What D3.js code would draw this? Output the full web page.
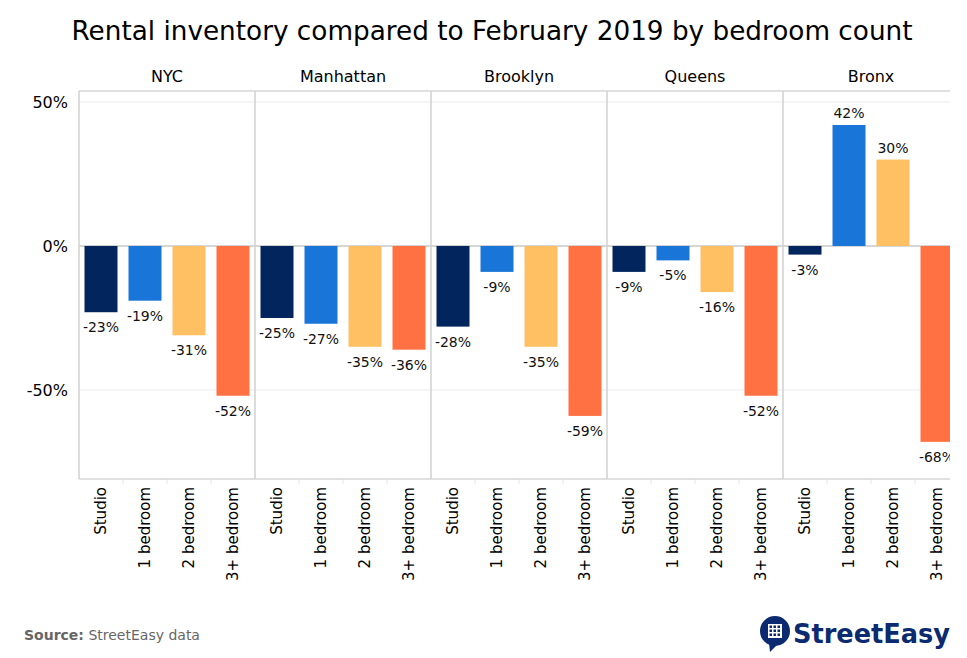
<!DOCTYPE html>
<html>
<head>
<meta charset="utf-8">
<script src="https://cdn.jsdelivr.net/npm/d3@7"></script>
<style>
  body { margin: 0; background: #fff; }
  svg { font-family: 'DejaVu Sans', Verdana, sans-serif; }
</style>
</head>
<body>
<svg></svg>
<script>
// data
var boroughs = ['NYC', 'Manhattan', 'Brooklyn', 'Queens', 'Bronx'];
var bedrooms = ['Studio', '1 bedroom', '2 bedroom', '3+ bedroom'];
var nycValues = [-23, -19, -31, -52];
var manhattanValues = [-25, -27, -35, -36];
var brooklynValues = [-28, -9, -35, -59];
var queensValues = [-9, -5, -16, -52];
var bronxValues = [-3, 42, 30, -68];
var yTicks = [50, 0, -50];
var colors = ['#03255e', '#1976d8', '#ffc064', '#ff7043'];

var values = [nycValues, manhattanValues, brooklynValues, queensValues, bronxValues];

var width = 967;
var height = 658;
var plotLeft = 79;
var plotTop = 91;
var plotBottom = 479;
var panelWidth = 176;
var clipRight = 950;

var svg = d3.select('svg')
            .attr('width', width)
            .attr('height', height);

var xScale = d3.scaleBand()
               .domain(boroughs)
               .range([plotLeft, plotLeft + panelWidth * boroughs.length]);

var barScale = d3.scaleBand()
                 .domain(bedrooms)
                 .range([0, panelWidth])
                 .paddingInner(0.25)
                 .paddingOuter(0.125);

var yScale = d3.scaleLinear()
               .domain([-80.9, 53.8])
               .range([plotBottom, plotTop]);

svg.append('clipPath')
    .attr('id', 'clip')
    .append('rect')
    .attr('x', 0)
    .attr('y', 0)
    .attr('width', clipRight)
    .attr('height', height);

// title
svg.append('text')
    .attr('x', 492)
    .attr('y', 40)
    .attr('text-anchor', 'middle')
    .attr('textLength', 841)
    .attr('lengthAdjust', 'spacingAndGlyphs')
    .style('font-size', '27px')
    .style('fill', '#000')
    .text('Rental inventory compared to February 2019 by bedroom count');

var plot = svg.append('g').attr('clip-path', 'url(#clip)');

// gridlines
plot.selectAll('.grid')
    .data(yTicks)
    .enter()
    .append('line')
    .attr('class', 'grid')
    .attr('x1', plotLeft)
    .attr('x2', clipRight)
    .attr('y1', (d) => yScale(d))
    .attr('y2', (d) => yScale(d))
    .attr('stroke', (d) => d === 0 ? '#c8c8c8' : '#f0f0f0')
    .attr('stroke-width', 1.5);

// frame top / bottom
plot.append('line')
    .attr('x1', plotLeft).attr('x2', clipRight)
    .attr('y1', plotTop).attr('y2', plotTop)
    .attr('stroke', '#d6d6d6').attr('stroke-width', 1.5);

plot.append('line')
    .attr('x1', plotLeft).attr('x2', clipRight)
    .attr('y1', plotBottom).attr('y2', plotBottom)
    .attr('stroke', '#d6d6d6').attr('stroke-width', 1.5);

// panel separators
plot.selectAll('.sep')
    .data(boroughs)
    .enter()
    .append('line')
    .attr('class', 'sep')
    .attr('x1', (d) => xScale(d))
    .attr('x2', (d) => xScale(d))
    .attr('y1', plotTop)
    .attr('y2', plotBottom)
    .attr('stroke', '#d0d0d0')
    .attr('stroke-width', 1.5);

var panels = plot.selectAll('.panel')
                 .data(boroughs)
                 .enter()
                 .append('g')
                 .attr('class', 'panel')
                 .attr('transform', (d) => 'translate(' + xScale(d) + ',0)');

// panel headers
svg.selectAll('.header')
    .data(boroughs)
    .enter()
    .append('text')
    .attr('class', 'header')
    .attr('x', (d) => xScale(d) + panelWidth / 2)
    .attr('y', 82)
    .attr('text-anchor', 'middle')
    .style('font-size', '16px')
    .style('fill', '#000')
    .text((d) => d);

// bars
panels.selectAll('rect')
    .data((d, i) => values[i].map((v, j) => ({ bed: bedrooms[j], value: v, idx: j })))
    .enter()
    .append('rect')
    .attr('x', (d) => barScale(d.bed))
    .attr('width', barScale.bandwidth())
    .attr('y', (d) => yScale(Math.max(0, d.value)))
    .attr('height', (d) => Math.abs(yScale(d.value) - yScale(0)))
    .attr('fill', (d) => colors[d.idx]);

// bar labels
panels.selectAll('.lbl')
    .data((d, i) => values[i].map((v, j) => ({ bed: bedrooms[j], value: v })))
    .enter()
    .append('text')
    .attr('class', 'lbl')
    .attr('x', (d) => barScale(d.bed) + barScale.bandwidth() / 2)
    .attr('y', (d) => d.value < 0 ? yScale(d.value) + 20 : yScale(d.value) - 7)
    .attr('text-anchor', 'middle')
    .style('font-size', '14px')
    .style('fill', '#111')
    .text((d) => d.value + '%');

// small ticks under the axis
panels.selectAll('.tick-mark')
    .data(bedrooms.slice(1))
    .enter()
    .append('line')
    .attr('class', 'tick-mark')
    .attr('x1', (d) => barScale(d) - barScale.step() * barScale.paddingInner() / 2)
    .attr('x2', (d) => barScale(d) - barScale.step() * barScale.paddingInner() / 2)
    .attr('y1', plotBottom)
    .attr('y2', plotBottom + 5)
    .attr('stroke', '#e6e6e6');

// x axis labels, one axis per panel
panels.each(function() {
    var g = d3.select(this).append('g')
              .attr('transform', 'translate(0,' + plotBottom + ')')
              .call(d3.axisBottom(barScale).tickSize(0));
    g.select('.domain').remove();
    g.selectAll('text')
     .attr('transform', 'rotate(-90)')
     .attr('x', -8)
     .attr('y', 0)
     .attr('dy', '0.35em')
     .style('text-anchor', 'end')
     .style('font-size', '15px')
     .style('font-family', "'DejaVu Sans', Verdana, sans-serif")
     .style('fill', '#000');
});

// y axis
var yAxis = d3.axisLeft(yScale)
              .tickValues(yTicks)
              .tickSize(0)
              .tickPadding(11)
              .tickFormat((d) => d + '%');

var yg = svg.append('g')
            .attr('transform', 'translate(' + plotLeft + ',0)')
            .call(yAxis);
yg.select('.domain').remove();
yg.selectAll('text')
  .style('font-size', '16px')
  .style('font-family', "'DejaVu Sans', Verdana, sans-serif")
  .style('fill', '#000');

// source note
var source = svg.append('text')
                .attr('x', 24)
                .attr('y', 640)
                .style('font-size', '14px')
                .style('fill', '#666');
source.append('tspan').style('font-weight', 'bold').text('Source:');
source.append('tspan').text(' StreetEasy data');

// logo
var logo = svg.append('g').attr('transform', 'translate(775,631)');
logo.append('path')
    .attr('d', 'M -6 12 L -5 21 L 3 13 Z')
    .attr('fill', '#0b2a6f');
logo.append('circle')
    .attr('r', 15)
    .attr('fill', '#0b2a6f');
logo.append('rect')
    .attr('x', -7).attr('y', -7)
    .attr('width', 14).attr('height', 14)
    .attr('fill', '#fff');
var cells = [];
for (var r = 0; r < 3; r++) {
    for (var c = 0; c < 3; c++) cells.push([c, r]);
}
logo.selectAll('.cell')
    .data(cells)
    .enter()
    .append('rect')
    .attr('class', 'cell')
    .attr('x', (d) => -5.5 + d[0] * 4)
    .attr('y', (d) => -5.5 + d[1] * 4)
    .attr('width', 2.5)
    .attr('height', 2.5)
    .attr('fill', '#0b2a6f');

svg.append('text')
    .attr('x', 793)
    .attr('y', 643)
    .attr('textLength', 157)
    .attr('lengthAdjust', 'spacingAndGlyphs')
    .style('font-size', '26px')
    .style('font-weight', 'bold')
    .style('fill', '#0b2a6f')
    .text('StreetEasy');
</script>
</body>
</html>
